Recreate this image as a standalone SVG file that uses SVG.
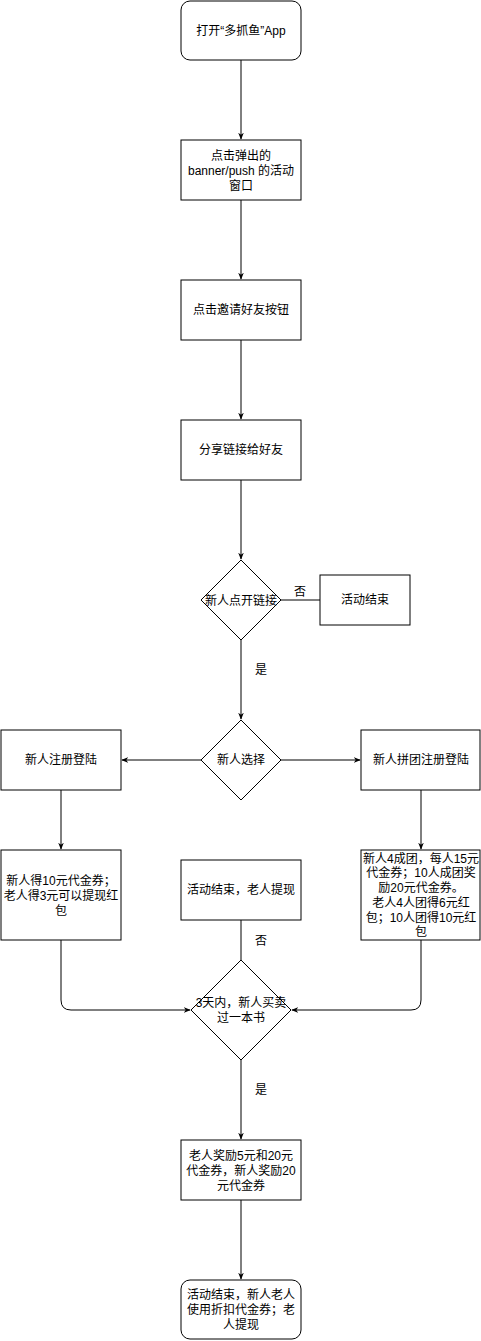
<svg xmlns="http://www.w3.org/2000/svg" width="481" height="1341" viewBox="0 0 481 1341">
<style>
.s{fill:#fff;stroke:#000;stroke-width:1}
.t{font-family:"Liberation Sans","Noto Sans CJK SC",sans-serif;font-size:12px;fill:#000;text-anchor:middle;dominant-baseline:central}
.e{fill:none;stroke:#000;stroke-width:1}
</style>
<defs>
<marker id="a" viewBox="0 0 10 10" refX="9" refY="5" markerWidth="7" markerHeight="7" orient="auto" markerUnits="userSpaceOnUse">
<path d="M0,1 L10,5 L0,9 L3,5 Z" fill="#000"/>
</marker>
</defs>
<rect width="481" height="1341" fill="#fff"/>
<g id="edges">
<path class="e" d="M241,60 V139" marker-end="url(#a)"/>
<path class="e" d="M241,200 V279" marker-end="url(#a)"/>
<path class="e" d="M241,340 V419" marker-end="url(#a)"/>
<path class="e" d="M241,480 V559" marker-end="url(#a)"/>
<path class="e" d="M281,600 H320"/>
<path class="e" d="M241,640 V719" marker-end="url(#a)"/>
<path class="e" d="M201,760 H122" marker-end="url(#a)"/>
<path class="e" d="M281,760 H360" marker-end="url(#a)"/>
<path class="e" d="M61,790 V849" marker-end="url(#a)"/>
<path class="e" d="M421,790 V849" marker-end="url(#a)"/>
<path class="e" d="M61,940 V1000 Q61,1010 71,1010 H190" marker-end="url(#a)"/>
<path class="e" d="M421,940 V1000 Q421,1010 411,1010 H292" marker-end="url(#a)"/>
<path class="e" d="M241,920 V960"/>
<path class="e" d="M241,1060 V1139" marker-end="url(#a)"/>
<path class="e" d="M241,1200 V1279" marker-end="url(#a)"/>
<text class="t" x="300" y="592">否</text>
<text class="t" x="261" y="670">是</text>
<text class="t" x="261" y="941">否</text>
<text class="t" x="261" y="1090">是</text>
</g>
<g id="n1"><rect class="s" x="181" y="1" width="120" height="59" rx="9"/><text class="t" x="241" y="31">打开“多抓鱼”App</text></g>
<g id="n2"><rect class="s" x="181" y="140" width="120" height="60"/><text class="t" x="241" y="156">点击弹出的</text><text class="t" x="241" y="171">banner/push 的活动</text><text class="t" x="241" y="186">窗口</text></g>
<g id="n3"><rect class="s" x="181" y="280" width="120" height="60"/><text class="t" x="241" y="310">点击邀请好友按钮</text></g>
<g id="n4"><rect class="s" x="181" y="420" width="120" height="60"/><text class="t" x="241" y="450">分享链接给好友</text></g>
<g id="d1"><path class="s" d="M241,560 L281,600 L241,640 L201,600 Z"/><text class="t" x="241" y="601">新人点开链接</text></g>
<g id="end1"><rect class="s" x="320" y="575" width="90" height="50"/><text class="t" x="365" y="600">活动结束</text></g>
<g id="d2"><path class="s" d="M241,720 L281,760 L241,800 L201,760 Z"/><text class="t" x="241" y="760">新人选择</text></g>
<g id="l1"><rect class="s" x="1" y="730" width="120" height="60"/><text class="t" x="61" y="760">新人注册登陆</text></g>
<g id="r1"><rect class="s" x="361" y="730" width="119" height="60"/><text class="t" x="421" y="760">新人拼团注册登陆</text></g>
<g id="l2"><rect class="s" x="1" y="850" width="120" height="90"/><text class="t" x="61" y="881">新人得10元代金券；</text><text class="t" x="61" y="896">老人得3元可以提现红</text><text class="t" x="61" y="911">包</text></g>
<g id="m2"><rect class="s" x="181" y="860" width="120" height="60"/><text class="t" x="241" y="890">活动结束，老人提现</text></g>
<g id="r2"><rect class="s" x="361" y="850" width="119" height="90"/><text class="t" x="421" y="859">新人4成团，每人15元</text><text class="t" x="421" y="873">代金券；10人成团奖</text><text class="t" x="421" y="888">励20元代金券。</text><text class="t" x="421" y="903">老人4人团得6元红</text><text class="t" x="421" y="918">包；10人团得10元红</text><text class="t" x="421" y="932">包</text></g>
<g id="d3"><path class="s" d="M241,960 L291,1010 L241,1060 L191,1010 Z"/><text class="t" x="241" y="1003">3天内，新人买卖</text><text class="t" x="241" y="1018">过一本书</text></g>
<g id="n5"><rect class="s" x="181" y="1140" width="120" height="60"/><text class="t" x="241" y="1156">老人奖励5元和20元</text><text class="t" x="241" y="1171">代金券，新人奖励20</text><text class="t" x="241" y="1186">元代金券</text></g>
<g id="n6"><rect class="s" x="181" y="1280" width="120" height="59" rx="9"/><text class="t" x="241" y="1295">活动结束，新人老人</text><text class="t" x="241" y="1310">使用折扣代金券；老</text><text class="t" x="241" y="1325">人提现</text></g>
</svg>
